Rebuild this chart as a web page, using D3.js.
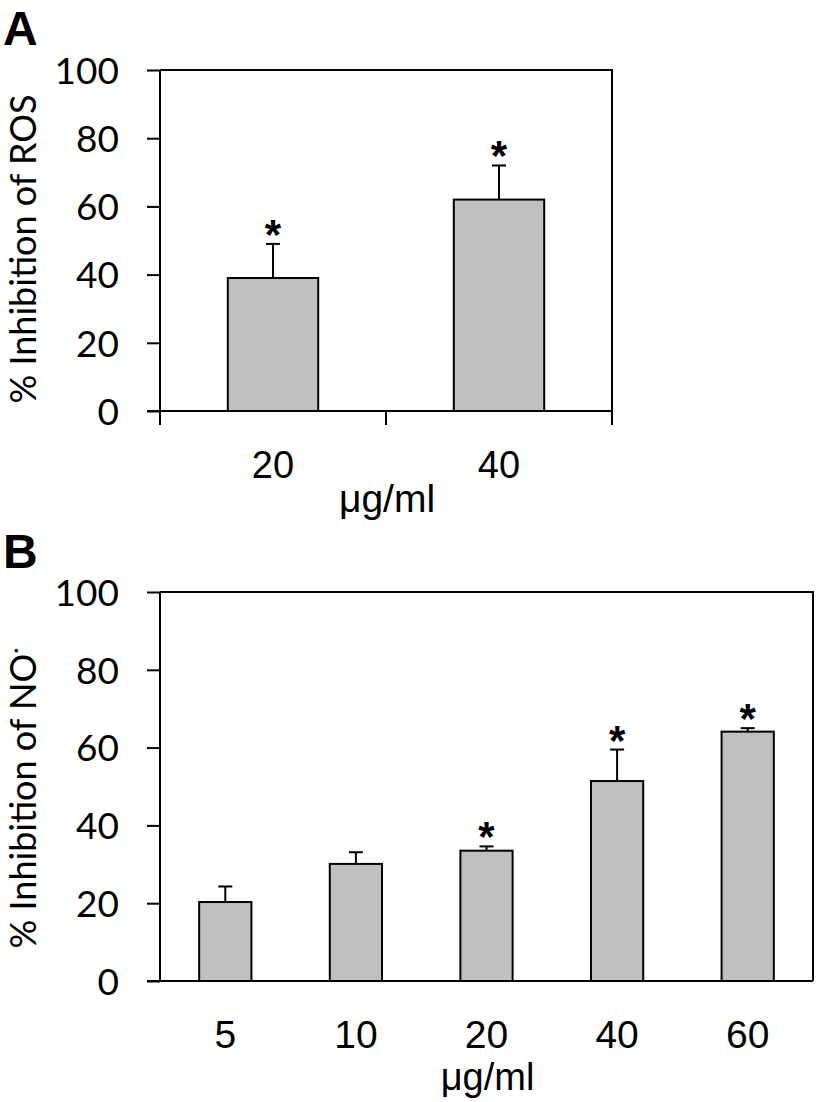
<!DOCTYPE html>
<html>
<head>
<meta charset="utf-8">
<script src="https://cdn.jsdelivr.net/npm/d3@7"></script>
<style>
  html, body { margin: 0; padding: 0; background: #fff; }
  svg { display: block; }
</style>
</head>
<body>
<svg id="chart" width="819" height="1102"></svg>
<script>
// ---- Data ----
const rosCategories = ["20", "40"];
const rosValues = [39, 62];
const rosErrors = [10, 10];
const rosSignificant = [true, true];

const noCategories = ["5", "10", "20", "40", "60"];
const noValues = [20.3, 30.1, 33.5, 51.4, 64.1];
const noErrors = [4.0, 3.0, 1.1, 8.1, 0.9];
const noSignificant = [false, false, true, true, true];

const yTicks = [0, 20, 40, 60, 80, 100];
const xTitle = "\u03BCg/ml";

// ---- Drawing ----
const svg = d3.select("#chart");
const BAR_FILL = "#c0c0c0";

function panel(opts) {
  const { left, right, top, bottom, cats, vals, errs, sig, letter, letterY,
          yTitle, yTitleDot, yTitleCenter, xTickFont, xTickSize, xTickBaseline,
          xTitleBaseline, xTitleSize, bottomTicks } = opts;

  const x = d3.scaleBand().domain(cats).range([left, right])
    .paddingInner(0.6).paddingOuter(0.3);
  const y = d3.scaleLinear().domain([0, 100]).range([bottom, top]);

  const g = svg.append("g");

  // frame (top & right)
  g.append("path")
    .attr("d", `M${left},${top}H${right}V${bottom}`)
    .attr("fill", "none").attr("stroke", "#000").attr("stroke-width", 2);

  // y axis
  const yAxis = d3.axisLeft(y).tickValues(yTicks).tickSize(13).tickPadding(28)
    .tickFormat(d3.format("d"));
  const ya = g.append("g").attr("transform", `translate(${left},0)`).call(yAxis);
  ya.select(".domain").attr("stroke-width", 2).attr("d", `M0,${bottom}V${top}`);
  ya.selectAll(".tick line").attr("stroke-width", 2);
  ya.selectAll(".tick text")
    .attr("font-family", "Lato, 'Open Sans', sans-serif")
    .attr("font-size", 37).attr("fill", "#000").attr("dy", "0.36em");

  // x axis line
  g.append("line").attr("x1", left - 13).attr("x2", right)
    .attr("y1", bottom).attr("y2", bottom)
    .attr("stroke", "#000").attr("stroke-width", 2);

  if (bottomTicks) {
    const bounds = d3.range(cats.length + 1).map(i => left + i * x.step());
    g.selectAll(".btick").data(bounds).enter().append("line")
      .attr("x1", d => d).attr("x2", d => d)
      .attr("y1", bottom).attr("y2", bottom + 14)
      .attr("stroke", "#000").attr("stroke-width", 2);
  }

  // x tick labels
  g.selectAll(".xlab").data(cats).enter().append("text")
    .attr("x", d => x(d) + x.bandwidth() / 2)
    .attr("y", xTickBaseline)
    .attr("text-anchor", "middle")
    .attr("font-family", xTickFont)
    .attr("font-size", xTickSize)
    .attr("fill", "#000")
    .text(d => d);

  // x title
  g.append("text")
    .attr("x", (left + right) / 2 + 1)
    .attr("y", xTitleBaseline)
    .attr("text-anchor", "middle")
    .attr("font-family", "'Liberation Sans', Arial, sans-serif")
    .attr("font-size", xTitleSize)
    .attr("fill", "#000")
    .text(xTitle);

  const data = cats.map((c, i) => ({ c, v: vals[i], e: errs[i], s: sig[i] }));

  // error bars
  const eg = g.selectAll(".err").data(data).enter().append("g");
  eg.append("line")
    .attr("x1", d => x(d.c) + x.bandwidth() / 2)
    .attr("x2", d => x(d.c) + x.bandwidth() / 2)
    .attr("y1", d => y(d.v)).attr("y2", d => y(d.v + d.e))
    .attr("stroke", "#000").attr("stroke-width", 2);
  eg.append("line")
    .attr("x1", d => x(d.c) + x.bandwidth() / 2 - 7)
    .attr("x2", d => x(d.c) + x.bandwidth() / 2 + 7)
    .attr("y1", d => y(d.v + d.e)).attr("y2", d => y(d.v + d.e))
    .attr("stroke", "#000").attr("stroke-width", 2);

  // bars
  g.selectAll(".bar").data(data).enter().append("rect")
    .attr("x", d => x(d.c))
    .attr("y", d => y(d.v))
    .attr("width", x.bandwidth())
    .attr("height", d => y(0) - y(d.v))
    .attr("fill", BAR_FILL)
    .attr("stroke", "#000").attr("stroke-width", 2);

  // significance stars
  g.selectAll(".star").data(data.filter(d => d.s)).enter().append("text")
    .attr("x", d => x(d.c) + x.bandwidth() / 2)
    .attr("y", d => y(d.v + d.e) + 5)
    .attr("text-anchor", "middle")
    .attr("font-family", "'Liberation Sans', Arial, sans-serif")
    .attr("font-weight", "bold")
    .attr("font-size", 42)
    .attr("fill", "#000")
    .text("*");

  // y title
  const yt = g.append("text")
    .attr("transform", `translate(36,${yTitleCenter}) rotate(-90)`)
    .attr("text-anchor", "middle")
    .attr("font-family", "Lato, 'Open Sans', sans-serif")
    .attr("font-size", 36)
    .attr("fill", "#000");
  yt.append("tspan").text(yTitle);
  if (yTitleDot) {
    yt.append("tspan").attr("dy", "-0.55em").attr("font-size", 24).text("\u00B7");
  }

  // panel letter
  svg.append("text")
    .attr("x", 3).attr("y", letterY)
    .attr("font-family", "'Liberation Sans', Arial, sans-serif")
    .attr("font-weight", "bold")
    .attr("font-size", 48)
    .attr("fill", "#000")
    .text(letter);
}

panel({
  left: 160, right: 612, top: 70, bottom: 411,
  cats: rosCategories, vals: rosValues, errs: rosErrors, sig: rosSignificant,
  letter: "A", letterY: 45,
  yTitle: "% Inhibition of ROS", yTitleDot: false, yTitleCenter: 249,
  xTickFont: "'Liberation Sans', Arial, sans-serif", xTickSize: 38, xTickBaseline: 478,
  xTitleBaseline: 512, xTitleSize: 39, bottomTicks: true
});

panel({
  left: 160, right: 813, top: 592, bottom: 981,
  cats: noCategories, vals: noValues, errs: noErrors, sig: noSignificant,
  letter: "B", letterY: 568,
  yTitle: "% Inhibition of NO", yTitleDot: true, yTitleCenter: 798,
  xTickFont: "'Liberation Sans', Arial, sans-serif", xTickSize: 39, xTickBaseline: 1048,
  xTitleBaseline: 1090, xTitleSize: 38, bottomTicks: false
});
</script>
</body>
</html>
